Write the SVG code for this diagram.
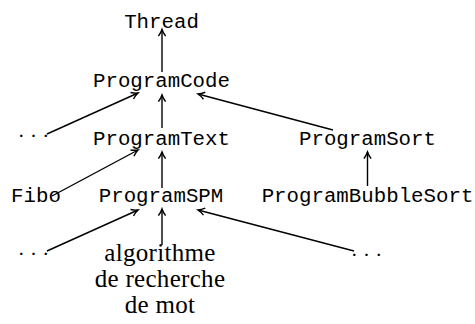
<svg xmlns="http://www.w3.org/2000/svg" width="475" height="324" viewBox="0 0 475 324">
<style>
.tt{font-family:"Liberation Mono",monospace;font-size:20.75px;fill:#000;text-anchor:middle}
.rm{font-family:"Liberation Serif",serif;font-size:25px;fill:#000;text-anchor:middle;letter-spacing:0.3px}
.dots{font-family:"Liberation Serif",serif;font-size:21px;fill:#000;text-anchor:middle}
.edge{stroke:#000;stroke-width:1.4;fill:none;marker-end:url(#ah)}
</style>
<defs>
<marker id="ah" markerUnits="userSpaceOnUse" markerWidth="12" markerHeight="12" viewBox="-7 -5 9 10" refX="0" refY="0" orient="auto">
<path d="M-5.5,-3 Q-2.5,-0.8 0,0 Q-2.5,0.8 -5.5,3" stroke="#000" stroke-width="1.2" fill="none"/>
</marker>
</defs>
<rect width="475" height="324" fill="#fff"/>
<g id="connectors">
<line class="edge" x1="162" y1="72" x2="162" y2="29.5"/>
<line class="edge" x1="162" y1="128" x2="162" y2="95"/>
<line class="edge" x1="47" y1="134" x2="138" y2="93"/>
<line class="edge" x1="333" y1="130" x2="198" y2="94"/>
<line class="edge" x1="162" y1="188" x2="162" y2="152"/>
<line class="edge" x1="52" y1="196" x2="138" y2="150"/>
<line class="edge" x1="367.5" y1="186" x2="367.5" y2="152"/>
<line class="edge" x1="162" y1="245" x2="162" y2="209"/>
<line class="edge" x1="47" y1="251" x2="138" y2="210"/>
<line class="edge" x1="354" y1="251" x2="198" y2="210"/>
</g>
<g id="Thread"><text class="tt" x="161.5" y="28">Thread</text></g>
<g id="ProgramCode"><text class="tt" x="161.5" y="87">ProgramCode</text></g>
<g id="dots1"><text class="dots" x="33.5" y="143">· · ·</text></g>
<g id="ProgramText"><text class="tt" x="161.5" y="145">ProgramText</text></g>
<g id="ProgramSort"><text class="tt" x="367.5" y="145">ProgramSort</text></g>
<g id="Fibo"><text class="tt" x="36" y="202">Fibo</text></g>
<g id="ProgramSPM"><text class="tt" x="161" y="202">ProgramSPM</text></g>
<g id="ProgramBubbleSort"><text class="tt" x="367.5" y="202">ProgramBubbleSort</text></g>
<g id="dots2"><text class="dots" x="33.5" y="261">· · ·</text></g>
<g id="algorithme"><text class="rm" x="160" y="261">algorithme</text><text class="rm" x="160" y="287">de recherche</text><text class="rm" x="160" y="313">de mot</text></g>
<g id="dots3"><text class="dots" x="366.5" y="262">· · ·</text></g>
</svg>
